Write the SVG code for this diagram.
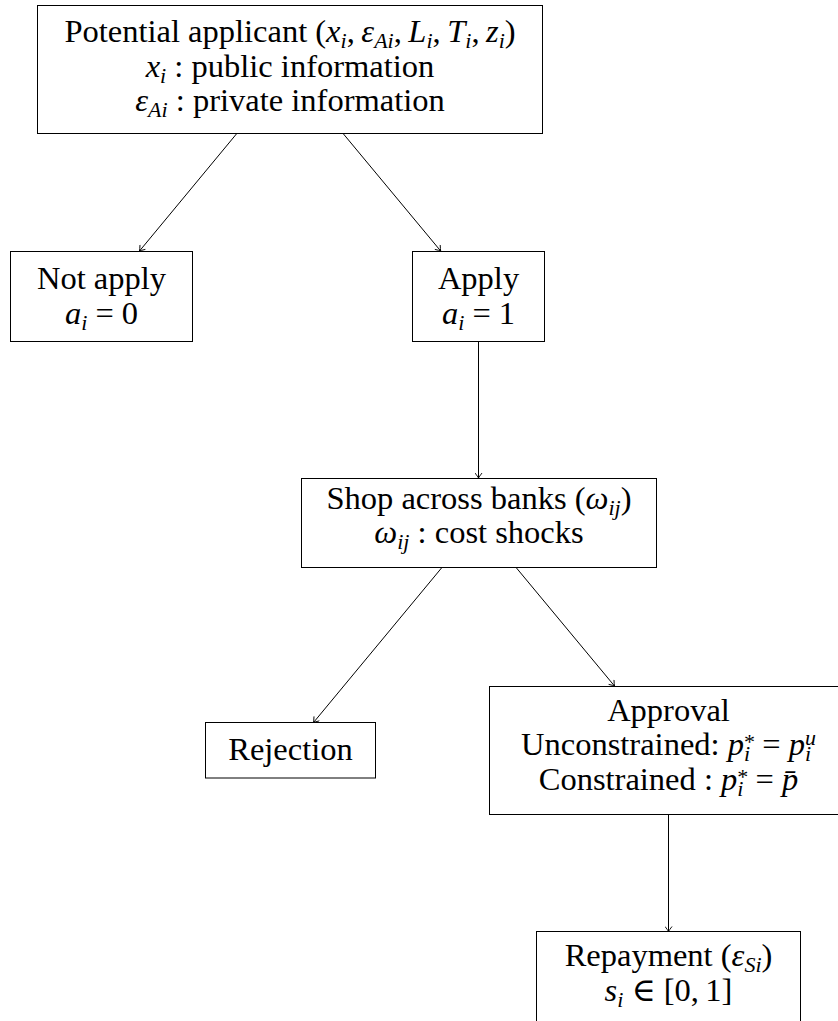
<svg xmlns="http://www.w3.org/2000/svg" width="838" height="1021" viewBox="0 0 838 1021">
<style>
.t{font-family:"Liberation Serif","DejaVu Serif",serif;font-size:32.5px;fill:#000;text-anchor:middle}
.m{font-style:italic}
.s{font-size:22px}
.box{fill:#fff;stroke:#000;stroke-width:1}
.edge{fill:none;stroke:#000;stroke-width:1;marker-end:url(#arr)}
</style>
<defs>
<marker id="arr" viewBox="-6 -4 7 8" refX="0" refY="0" markerWidth="7" markerHeight="8" markerUnits="userSpaceOnUse" orient="auto">
<path d="M-5,-3.5 Q-1.5,-0.8 0,0 Q-1.5,0.8 -5,3.5" fill="none" stroke="#000" stroke-width="0.9"/>
</marker>
</defs>
<rect width="838" height="1021" fill="#fff"/>
<g id="connectors">
<path class="edge" d="M236.4,134 L139.5,251"/>
<path class="edge" d="M343.5,134 L440.7,251"/>
<path class="edge" d="M478.5,342 L478.5,478"/>
<path class="edge" d="M441.5,568 L313.5,722.5"/>
<path class="edge" d="M516.5,568 L614.5,686"/>
<path class="edge" d="M668.5,815 L668.5,931.5"/>
</g>
<g id="applicant">
<rect class="box" x="37.5" y="5.5" width="505" height="128"/>
<text class="t" x="290" y="42">Potential applicant (<tspan class="m">x</tspan><tspan class="s m" dy="6">i</tspan><tspan dy="-6">,&#8201;</tspan><tspan class="m">ε</tspan><tspan class="s m" dy="6">Ai</tspan><tspan dy="-6">,&#8201;</tspan><tspan class="m">L</tspan><tspan class="s m" dy="6">i</tspan><tspan dy="-6">,&#8201;</tspan><tspan class="m">T</tspan><tspan class="s m" dy="6">i</tspan><tspan dy="-6">,&#8201;</tspan><tspan class="m">z</tspan><tspan class="s m" dy="6">i</tspan><tspan dy="-6">)</tspan></text>
<text class="t" x="290" y="76.5"><tspan class="m">x</tspan><tspan class="s m" dy="6">i</tspan><tspan dy="-6"> : public information</tspan></text>
<text class="t" x="290" y="110.5"><tspan class="m">ε</tspan><tspan class="s m" dy="6">Ai</tspan><tspan dy="-6"> : private information</tspan></text>
</g>
<g id="not-apply">
<rect class="box" x="10.5" y="251.5" width="182" height="90"/>
<text class="t" x="101.5" y="288.5">Not apply</text>
<text class="t" x="101.5" y="323.5"><tspan class="m">a</tspan><tspan class="s m" dy="6">i</tspan><tspan dy="-6"> = 0</tspan></text>
</g>
<g id="apply">
<rect class="box" x="412.5" y="251.5" width="132" height="90"/>
<text class="t" x="478.5" y="288.5">Apply</text>
<text class="t" x="478.5" y="323.5"><tspan class="m">a</tspan><tspan class="s m" dy="6">i</tspan><tspan dy="-6"> = 1</tspan></text>
</g>
<g id="shop">
<rect class="box" x="301.5" y="478.5" width="355" height="89"/>
<text class="t" x="479" y="508.5">Shop across banks (<tspan class="m">ω</tspan><tspan class="s m" dy="6">ij</tspan><tspan dy="-6">)</tspan></text>
<text class="t" x="479" y="542.5"><tspan class="m">ω</tspan><tspan class="s m" dy="6">ij</tspan><tspan dy="-6"> : cost shocks</tspan></text>
</g>
<g id="rejection">
<rect class="box" x="205.5" y="722.5" width="170" height="55.5"/>
<text class="t" x="290.5" y="760">Rejection</text>
</g>
<g id="approval">
<rect class="box" x="489.5" y="686.5" width="358" height="128"/>
<text class="t" x="668.5" y="721">Approval</text>
<text class="t" x="668.5" y="755">Unconstrained: <tspan class="m">p</tspan><tspan class="s" dy="-6">*</tspan><tspan class="s m" dx="-11" dy="12">i</tspan><tspan dx="4" dy="-6"> = </tspan><tspan class="m">p</tspan><tspan class="s m" dy="-10">u</tspan><tspan class="s m" dx="-11" dy="16">i</tspan></text>
<text class="t" x="668.5" y="790">Constrained : <tspan class="m">p</tspan><tspan class="s" dy="-6">*</tspan><tspan class="s m" dx="-11" dy="12">i</tspan><tspan dx="4" dy="-6"> = </tspan><tspan class="m">p&#772;</tspan></text>
</g>
<g id="repayment">
<rect class="box" x="536.5" y="931.5" width="264" height="100"/>
<text class="t" x="668.5" y="965.5">Repayment (<tspan class="m">ε</tspan><tspan class="s m" dy="6">Si</tspan><tspan dy="-6">)</tspan></text>
<text class="t" x="668.5" y="1000.5"><tspan class="m">s</tspan><tspan class="s m" dy="6">i</tspan><tspan dy="-6"> ∈ [0,&#8201;1]</tspan></text>
</g>
</svg>
